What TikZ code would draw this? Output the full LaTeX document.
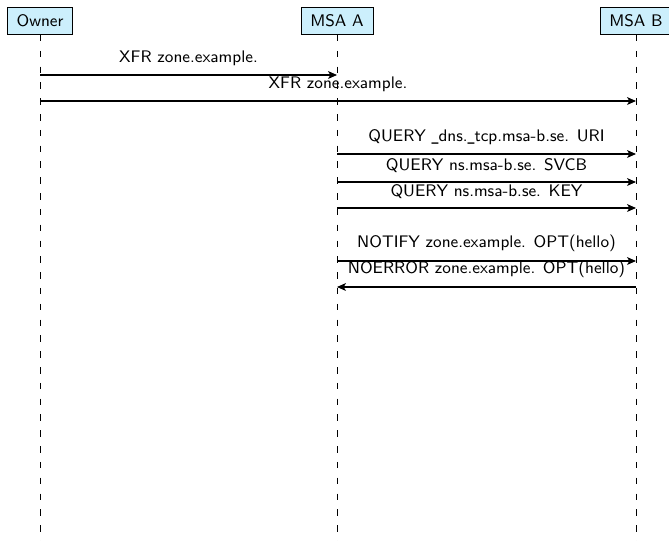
\documentclass[tikz,border=0pt]{standalone}
\usetikzlibrary{arrows.meta}
\newcommand{\usc}{\scalebox{0.6}[1]{\_}}
\begin{document}
\begin{tikzpicture}[x=0.5376pt,y=-0.5376pt,font=\sffamily\fontsize{9}{11}\selectfont]
  \useasboundingbox (0,0) rectangle (669,541);
  \begin{scope}[every node/.style={draw,fill=cyan!20,inner xsep=5pt,inner ysep=4pt}]
  \node (owner) at (40,21) {Owner};
  \node (msaa) at (337,21) {MSA A};
  \node (msab) at (636,21) {MSA B};
  \end{scope}
  % lifelines
  \coordinate (oend) at (40,541);
  \coordinate (aend) at (337,541);
  \coordinate (bend) at (636,541);
  \begin{scope}[every edge/.style={draw=black,dash pattern=on 3.5pt off 5pt}]
  \path (owner) edge (oend);
  \path (msaa) edge (aend);
  \path (msab) edge (bend);
  \end{scope}
  % messages
  \coordinate (o1) at (40,75);
  \coordinate (a1) at (337,75);
  \coordinate (o2) at (40,101);
  \coordinate (b2) at (636,101);
  \coordinate (a3) at (337,154);
  \coordinate (b3) at (636,154);
  \coordinate (a4) at (337,182);
  \coordinate (b4) at (636,182);
  \coordinate (a5) at (337,208);
  \coordinate (b5) at (636,208);
  \coordinate (a6) at (337,261);
  \coordinate (b6) at (636,261);
  \coordinate (a7) at (337,287);
  \coordinate (b7) at (636,287);
  \begin{scope}[every edge/.style={draw=black,line width=0.55pt,-{Stealth[length=4.8pt,width=4.2pt,inset=1.2pt]}},
                every node/.style={above=1.5pt}]
  \path (o1) edge node {XFR zone.example.} (a1);
  \path (o2) edge node {XFR zone.example.} (b2);
  \path (a3) edge node {QUERY \usc dns.\usc tcp.msa-b.se. URI} (b3);
  \path (a4) edge node {QUERY ns.msa-b.se. SVCB} (b4);
  \path (a5) edge node {QUERY ns.msa-b.se. KEY} (b5);
  \path (a6) edge node {NOTIFY zone.example. OPT(hello)} (b6);
  \path (b7) edge node {NOERROR zone.example. OPT(hello)} (a7);
  \end{scope}
\end{tikzpicture}
\end{document}
